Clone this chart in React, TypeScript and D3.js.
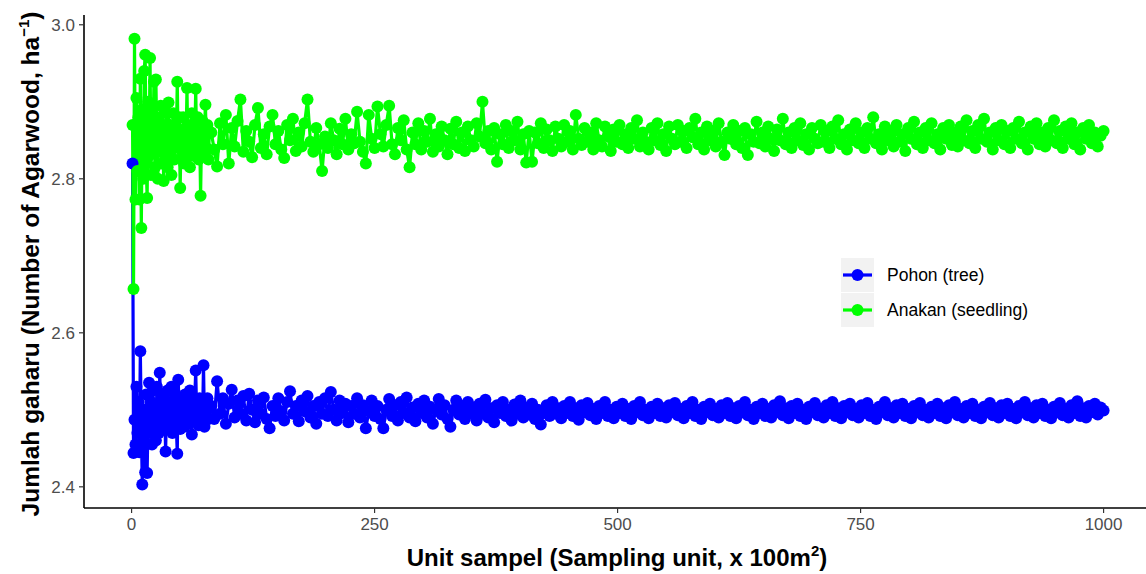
import React from "react";
import * as d3 from "d3";

// Sampling units: every unit for 1–80, then every 3rd unit up to 1000
const earlyUnits: number[] = d3.range(1, 81);
const laterUnits: number[] = d3.range(82, 1001, 3);

const seedlingEarly: number[] = [
  2.870, 2.657, 2.982, 2.773, 2.905, 2.810, 2.880, 2.773, 2.930, 2.736,
  2.890, 2.800, 2.940, 2.961, 2.820, 2.775, 2.900, 2.830, 2.957, 2.805,
  2.880, 2.840, 2.926, 2.815, 2.929, 2.850, 2.800, 2.880, 2.835, 2.895,
  2.820, 2.865, 2.797, 2.870, 2.840, 2.885, 2.815, 2.899, 2.830, 2.870,
  2.805, 2.860, 2.885, 2.825, 2.870, 2.845, 2.926, 2.840, 2.880, 2.788,
  2.860, 2.835, 2.880, 2.820, 2.865, 2.845, 2.918, 2.830, 2.870, 2.815,
  2.860, 2.885, 2.830, 2.870, 2.850, 2.917, 2.840, 2.880, 2.825, 2.860,
  2.778, 2.855, 2.875, 2.835, 2.865, 2.896, 2.840, 2.870, 2.825, 2.860,
];

const seedlingLater: number[] = [
  2.860, 2.838, 2.816, 2.872, 2.845, 2.883, 2.820, 2.866, 2.842, 2.875,
  2.903, 2.835, 2.862, 2.848, 2.828, 2.870, 2.892, 2.840, 2.858, 2.832,
  2.868, 2.883, 2.845, 2.862, 2.838, 2.827, 2.870, 2.850, 2.878, 2.836,
  2.860, 2.842, 2.872, 2.903, 2.848, 2.835, 2.866, 2.845, 2.810, 2.855,
  2.840, 2.872, 2.850, 2.832, 2.865, 2.845, 2.878, 2.838, 2.858, 2.846,
  2.887, 2.848, 2.835, 2.820, 2.883, 2.852, 2.840, 2.894, 2.858, 2.842,
  2.870, 2.895, 2.845, 2.832, 2.866, 2.850, 2.876, 2.838, 2.815, 2.860,
  2.845, 2.872, 2.838, 2.862, 2.848, 2.878, 2.835, 2.858, 2.842, 2.868,
  2.850, 2.832, 2.865, 2.845, 2.874, 2.840, 2.860, 2.836, 2.868, 2.850,
  2.842, 2.872, 2.855, 2.900, 2.846, 2.862, 2.838, 2.866, 2.822, 2.858,
  2.845, 2.870, 2.840, 2.862, 2.850, 2.874, 2.838, 2.858, 2.821, 2.862,
  2.822, 2.860, 2.846, 2.872, 2.840, 2.864, 2.850, 2.836, 2.868, 2.852,
  2.842, 2.870, 2.848, 2.862, 2.838, 2.883, 2.852, 2.844, 2.866, 2.848,
  2.860, 2.838, 2.872, 2.850, 2.842, 2.868, 2.855, 2.836, 2.864, 2.848,
  2.870, 2.845, 2.858, 2.840, 2.866, 2.852, 2.876, 2.842, 2.860, 2.848,
  2.838, 2.866, 2.850, 2.872, 2.844, 2.858, 2.836, 2.868, 2.852, 2.845,
  2.870, 2.848, 2.862, 2.840, 2.866, 2.854, 2.878, 2.845, 2.860, 2.838,
  2.868, 2.850, 2.862, 2.842, 2.872, 2.848, 2.831, 2.860, 2.852, 2.870,
  2.845, 2.862, 2.840, 2.866, 2.831, 2.858, 2.848, 2.874, 2.846, 2.860,
  2.842, 2.868, 2.852, 2.836, 2.864, 2.850, 2.878, 2.845, 2.860, 2.840,
  2.866, 2.850, 2.872, 2.844, 2.858, 2.838, 2.866, 2.852, 2.846, 2.870,
  2.848, 2.862, 2.840, 2.868, 2.852, 2.876, 2.845, 2.858, 2.838, 2.864,
  2.850, 2.872, 2.846, 2.860, 2.840, 2.866, 2.852, 2.880, 2.846, 2.858,
  2.838, 2.868, 2.850, 2.862, 2.842, 2.870, 2.848, 2.858, 2.836, 2.866,
  2.852, 2.874, 2.845, 2.860, 2.840, 2.866, 2.850, 2.872, 2.846, 2.858,
  2.838, 2.866, 2.852, 2.870, 2.844, 2.860, 2.842, 2.868, 2.850, 2.876,
  2.846, 2.862, 2.840, 2.870, 2.852, 2.878, 2.848, 2.860, 2.838, 2.866,
  2.850, 2.870, 2.845, 2.862, 2.840, 2.866, 2.852, 2.874, 2.846, 2.860,
  2.838, 2.868, 2.852, 2.872, 2.845, 2.860, 2.842, 2.866, 2.850, 2.876,
  2.846, 2.862, 2.840, 2.868, 2.852, 2.872, 2.845, 2.860, 2.838, 2.866,
  2.852, 2.870, 2.846, 2.860, 2.842, 2.856, 2.862,
];

const treeEarly: number[] = [
  2.820, 2.444, 2.487, 2.455, 2.530, 2.470, 2.510, 2.445, 2.576, 2.480,
  2.403, 2.500, 2.460, 2.419, 2.520, 2.418, 2.495, 2.535, 2.470, 2.510,
  2.455, 2.525, 2.480, 2.505, 2.460, 2.530, 2.490, 2.470, 2.548, 2.495,
  2.475, 2.520, 2.485, 2.510, 2.446, 2.500, 2.525, 2.478, 2.510, 2.488,
  2.530, 2.470, 2.505, 2.490, 2.520, 2.480, 2.443, 2.539, 2.495, 2.475,
  2.515, 2.490, 2.505, 2.478, 2.520, 2.495, 2.482, 2.510, 2.490, 2.525,
  2.485, 2.468, 2.505, 2.495, 2.515, 2.551, 2.490, 2.505, 2.480, 2.515,
  2.495, 2.508, 2.485, 2.558, 2.478, 2.505, 2.492, 2.515, 2.488, 2.502,
];

const treeLater: number[] = [
  2.505, 2.488, 2.537, 2.495, 2.515, 2.482, 2.508, 2.526, 2.490, 2.512,
  2.495, 2.518, 2.486, 2.521, 2.500, 2.484, 2.512, 2.495, 2.516, 2.488,
  2.476, 2.505, 2.492, 2.515, 2.498, 2.486, 2.510, 2.524, 2.495, 2.505,
  2.485, 2.512, 2.498, 2.518, 2.490, 2.505, 2.482, 2.510, 2.495, 2.515,
  2.492, 2.523, 2.500, 2.486, 2.512, 2.496, 2.508, 2.484, 2.505, 2.495,
  2.515, 2.490, 2.506, 2.476, 2.498, 2.512, 2.492, 2.505, 2.488, 2.476,
  2.500, 2.514, 2.492, 2.506, 2.486, 2.510, 2.496, 2.516, 2.490, 2.503,
  2.485, 2.508, 2.496, 2.512, 2.490, 2.504, 2.482, 2.500, 2.514, 2.494,
  2.506, 2.488, 2.478, 2.500, 2.512, 2.494, 2.505, 2.488, 2.510, 2.496,
  2.503, 2.486, 2.508, 2.495, 2.513, 2.490, 2.502, 2.484, 2.506, 2.496,
  2.510, 2.492, 2.500, 2.486, 2.507, 2.495, 2.512, 2.490, 2.503, 2.494,
  2.508, 2.488, 2.500, 2.481, 2.496, 2.506, 2.492, 2.510, 2.495, 2.502,
  2.489, 2.505, 2.496, 2.510, 2.492, 2.502, 2.487, 2.506, 2.497, 2.509,
  2.493, 2.501, 2.488, 2.505, 2.496, 2.510, 2.492, 2.500, 2.489, 2.504,
  2.496, 2.508, 2.492, 2.501, 2.488, 2.505, 2.497, 2.510, 2.493, 2.500,
  2.489, 2.504, 2.496, 2.508, 2.492, 2.502, 2.490, 2.506, 2.497, 2.509,
  2.493, 2.501, 2.489, 2.505, 2.496, 2.510, 2.492, 2.500, 2.488, 2.504,
  2.497, 2.508, 2.493, 2.501, 2.490, 2.506, 2.496, 2.509, 2.492, 2.502,
  2.489, 2.505, 2.497, 2.510, 2.493, 2.500, 2.488, 2.504, 2.496, 2.508,
  2.492, 2.501, 2.490, 2.506, 2.497, 2.511, 2.493, 2.502, 2.489, 2.505,
  2.496, 2.508, 2.492, 2.500, 2.488, 2.504, 2.497, 2.509, 2.493, 2.501,
  2.490, 2.506, 2.496, 2.510, 2.492, 2.502, 2.489, 2.505, 2.497, 2.508,
  2.493, 2.501, 2.490, 2.506, 2.496, 2.509, 2.492, 2.500, 2.488, 2.504,
  2.497, 2.510, 2.493, 2.502, 2.490, 2.506, 2.496, 2.508, 2.492, 2.501,
  2.489, 2.505, 2.497, 2.509, 2.493, 2.500, 2.490, 2.504, 2.496, 2.508,
  2.492, 2.502, 2.489, 2.506, 2.497, 2.510, 2.493, 2.501, 2.490, 2.505,
  2.496, 2.508, 2.492, 2.500, 2.489, 2.504, 2.497, 2.509, 2.493, 2.502,
  2.490, 2.506, 2.496, 2.508, 2.492, 2.501, 2.489, 2.505, 2.497, 2.510,
  2.493, 2.502, 2.490, 2.506, 2.496, 2.508, 2.492, 2.500, 2.489, 2.504,
  2.497, 2.509, 2.493, 2.501, 2.490, 2.506, 2.496, 2.511, 2.492, 2.502,
  2.490, 2.505, 2.497, 2.508, 2.494, 2.503, 2.499,
];

const xTicks: number[] = [0, 250, 500, 750, 1000];
const yTicks: number[] = [2.4, 2.6, 2.8, 3.0];
const seriesNames: string[] = ["Pohon (tree)", "Anakan (seedling)"];
const seriesColors: string[] = ["#0000ff", "#00ff00"];

type Pt = { x: number; y: number };

export default function App() {
  const W = 1146;
  const H = 574;
  const units = [...earlyUnits, ...laterUnits];
  const treeVals = [...treeEarly, ...treeLater];
  const seedVals = [...seedlingEarly, ...seedlingLater];
  const tree: Pt[] = units.map((u, i) => ({ x: u, y: treeVals[i] })).filter((d) => d.y !== undefined);
  const seedling: Pt[] = units.map((u, i) => ({ x: u, y: seedVals[i] })).filter((d) => d.y !== undefined);
  const series = [tree, seedling];

  const xs = d3.scaleLinear().domain([-48.95, 1049.95]).range([84, 84 + 1098.9 * 0.972]);
  const ys = d3.scaleLinear().domain([2.3725, 3.0127]).range([508, 15]);
  const line = d3
    .line<Pt>()
    .x((d) => xs(d.x))
    .y((d) => ys(d.y));

  const font = "Arial, 'Liberation Sans', sans-serif";

  return (
    <svg
      width={W}
      height={H}
      style={{ position: "absolute", left: 0, top: 0, background: "#fff" }}
      fontFamily={font}
    >
      <rect width={W} height={H} fill="#fff" />
      {series.map((s, i) => (
        <path key={"l" + i} d={line(s) || ""} fill="none" stroke={seriesColors[i]} strokeWidth={3.2} strokeLinejoin="round" />
      ))}
      {series.map((s, i) => (
        <g key={"p" + i} fill={seriesColors[i]}>
          {s.map((d, j) => (
            <circle key={j} cx={xs(d.x)} cy={ys(d.y)} r={6} />
          ))}
        </g>
      ))}
      <line x1={84} x2={W} y1={508} y2={508} stroke="#000" strokeWidth={1.6} />
      <line x1={84} x2={84} y1={15} y2={508} stroke="#000" strokeWidth={1.6} />
      {xTicks.map((t) => (
        <g key={"xt" + t}>
          <line x1={xs(t)} x2={xs(t)} y1={508} y2={513} stroke="#333" strokeWidth={1.2} />
          <text x={xs(t)} y={530} textAnchor="middle" fontSize={17} fill="#4d4d4d">
            {t}
          </text>
        </g>
      ))}
      {yTicks.map((t) => (
        <g key={"yt" + t}>
          <line x1={79} x2={84} y1={ys(t)} y2={ys(t)} stroke="#333" strokeWidth={1.2} />
          <text x={75} y={ys(t)} dy="0.36em" textAnchor="end" fontSize={17} fill="#4d4d4d">
            {t.toFixed(1)}
          </text>
        </g>
      ))}
      <text x={617} y={566} textAnchor="middle" fontSize={24} fontWeight="bold" fill="#000">
        Unit sampel (Sampling unit, x 100m
        <tspan dy={-10} fontSize={15}>2</tspan>
        <tspan dy={10}>)</tspan>
      </text>
      <text
        transform={`translate(39,264) rotate(-90)`}
        textAnchor="middle"
        fontSize={24.5}
        fontWeight="bold"
        fill="#000"
      >
        Jumlah gaharu (Number of Agarwood, ha
        <tspan dy={-10} fontSize={15}>−1</tspan>
        <tspan dy={10}>)</tspan>
      </text>
      {seriesNames.map((n, i) => {
        const cy = 275 + i * 35;
        return (
          <g key={"lg" + i}>
            <rect x={841} y={cy - 17} width={33} height={34} fill="#f2f2f2" />
            <line x1={843} x2={872} y1={cy} y2={cy} stroke={seriesColors[i]} strokeWidth={3.2} />
            <circle cx={857.5} cy={cy} r={6} fill={seriesColors[i]} />
            <text x={887} y={cy} dy="0.36em" fontSize={17.5} fill="#000">
              {n}
            </text>
          </g>
        );
      })}
    </svg>
  );
}
